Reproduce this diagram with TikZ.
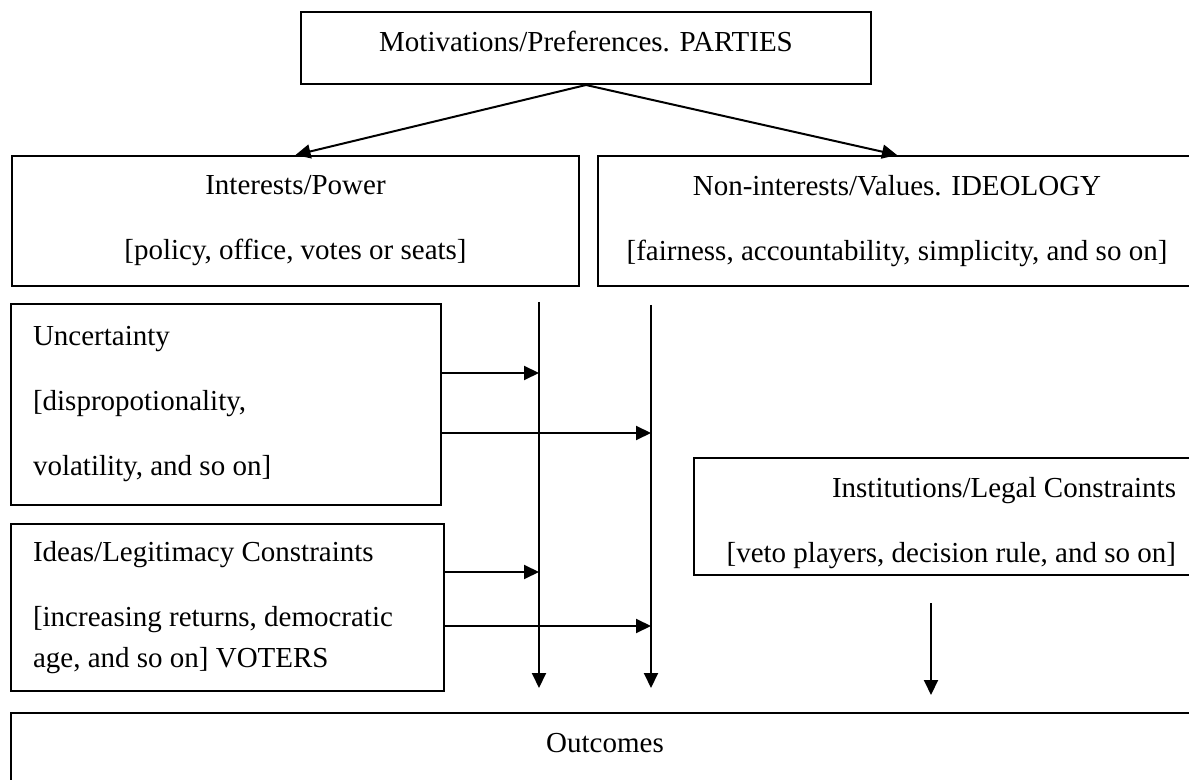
\documentclass[tikz,border=0pt]{standalone}
\usepackage{fontspec}
\setmainfont{Liberation Serif}
\usetikzlibrary{arrows.meta}
\begin{document}
\begin{tikzpicture}[x=0.5pt, y=-0.5pt, line width=1pt, >={Triangle[length=7.5pt,width=7pt]},
        box/.style={draw, anchor=north west, inner sep=0pt, font=\fontsize{14.5}{32.5}\selectfont}]
            \useasboundingbox (0,0) rectangle (1189,780);
            \clip (0,0) rectangle (1189,780);
            \node[box, minimum width=285pt, minimum height=36pt, text height=10pt, text depth=6pt] (parties) at (300,11) {Motivations/Preferences. PARTIES};
            \node[box, minimum width=283.5pt, minimum height=65pt, align=center] (interests) at (11,155) {Interests/Power\\{}[policy, office, votes or seats]};
            \node[box, minimum width=299pt, minimum height=65pt, align=center] (values) at (597,155) {Non-interests/Values. IDEOLOGY\\{}[fairness, accountability, simplicity, and so on]};
            \node[box, minimum width=215pt, minimum height=100.5pt, text width=193pt, align=flush left] (uncert) at (10,303) {Uncertainty\\{}[dispropotionality,\\volatility, and so on]};
            \node[box, minimum width=216.5pt, minimum height=83.5pt, text width=194.5pt, align=flush left, font=\fontsize{14.5}{20.5}\selectfont] (ideas) at (10,523) {Ideas/Legitimacy Constraints\\[12pt]{}[increasing returns, democratic\\age, and so on] VOTERS};
            \node[box, minimum width=251pt, minimum height=58.5pt, text width=231pt, text height=16.5pt, align=flush right] (inst) at (693,457) {Institutions/Legal Constraints\\{}[veto players, decision rule, and so on]};
            \node[box, minimum width=594pt, inner ysep=9.5pt, text height=10pt, text depth=40pt] (outcomes) at (10,712) {Outcomes};
            \draw [->] (parties.south) -- (interests.north);
            \draw [->] (parties.south) -- (values.north);
            \coordinate (top1) at (539,302);
            \coordinate (end1) at (539,688);
            \coordinate (top2) at (651,305);
            \coordinate (end2) at (651,688);
            \draw [->] (top1) -- (end1);
            \draw [->] (top2) -- (end2);
            \coordinate (h1) at (539,373);
            \coordinate (h2) at (651,433);
            \coordinate (h3) at (539,572);
            \coordinate (h4) at (651,626);
            \draw [->] (uncert.east |- h1) -- (h1);
            \draw [->] (uncert.east |- h2) -- (h2);
            \draw [->] (ideas.east |- h3) -- (h3);
            \draw [->] (ideas.east |- h4) -- (h4);
            \coordinate (inst1) at (931,603);
            \coordinate (inst2) at (931,695);
            \draw [->] (inst1) -- (inst2);
        \end{tikzpicture}
\end{document}
